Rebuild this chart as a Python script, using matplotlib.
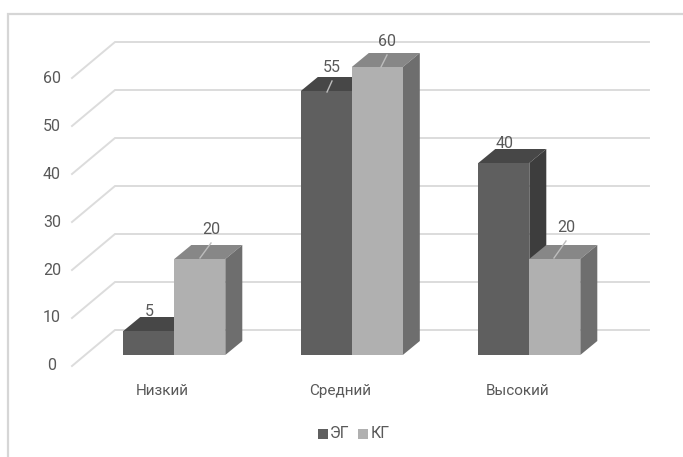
import matplotlib
matplotlib.use("Agg")
import matplotlib.pyplot as plt
from matplotlib.patches import Polygon

plt.rcParams['font.family'] = ['Roboto', 'DejaVu Sans']

categories = ["Низкий", "Средний", "Высокий"]
series_names = ["ЭГ", "КГ"]
eg_values = [5, 55, 40]
kg_values = [20, 60, 20]
y_ticks = [0, 10, 20, 30, 40, 50, 60]

W, H = 683, 457
PX_X = 177.5      # pixels per category
PX_Y = 4.8        # pixels per value unit
X0_PX = 174.3     # pixel of first category centre
Y0_PX = 355       # pixel of value 0 at the bars' front

BAR_W = 51 / PX_X
DEPTH_X = 17 / PX_X
DEPTH_Y = 14 / PX_Y
FS = 11.5

GRID = "#dcdcdc"
TEXT = "#595959"
dark = ("#5f5f5f", "#474747", "#3d3d3d")    # front, top, side
light = ("#b0b0b0", "#878787", "#6e6e6e")


def px_x(p):
    return (p - X0_PX) / PX_X


def px_y(p):
    return (Y0_PX - p) / PX_Y


fig = plt.figure(figsize=(W / 100, H / 100), dpi=100)
ax = fig.add_axes((0, 0, 1, 1))
ax.set_xlim(px_x(0), px_x(W))
ax.set_ylim(px_y(H), px_y(0))
ax.axis("off")

# chart frame
ax.plot([px_x(8), px_x(8), px_x(W)], [px_y(H), px_y(14), px_y(14)],
        color="#d6d6d6", lw=1.6, zorder=1, solid_joinstyle="miter")

# floor and back wall lines
front_shift = -11 / PX_Y
back_shift = 25 / PX_Y
for t in y_ticks:
    ax.plot([px_x(72), px_x(115), px_x(649)],
            [t + front_shift, t + back_shift, t + back_shift],
            color=GRID, lw=1.4, zorder=2, solid_joinstyle="miter")
    ax.text(px_x(52), t - 11 / PX_Y, str(t), color=TEXT, fontsize=FS,
            ha="center", va="center", zorder=6)


def draw_bar(left, value, colors, z):
    right = left + BAR_W
    ax.add_patch(Polygon([(left, value), (right, value),
                          (right + DEPTH_X, value + DEPTH_Y), (left + DEPTH_X, value + DEPTH_Y)],
                         fc=colors[1], ec="none", zorder=z))
    ax.add_patch(Polygon([(right, 0), (right + DEPTH_X, DEPTH_Y),
                          (right + DEPTH_X, value + DEPTH_Y), (right, value)],
                         fc=colors[2], ec="none", zorder=z))
    ax.bar(left, value, width=BAR_W, align="edge", color=colors[0], zorder=z + 0.1)


for i, cat in enumerate(categories):
    left = i - BAR_W
    draw_bar(left, eg_values[i], dark, 3)
    draw_bar(i, kg_values[i], light, 4)
    ax.text(i - 0.068, px_y(391), cat, color=TEXT, fontsize=11,
            ha="center", va="center", zorder=6)

# data labels with leader lines
label_pos = {0: [(149, 311), (211, 229)],
             1: [(332, 67), (387, 41)],
             2: [(505, 143), (566, 227)]}
leaders = {0: [None, ((200, 258), (211, 243))],
           1: [((327, 92), (332, 81)), ((381, 67), (387, 55))],
           2: [None, ((554, 258), (566, 241))]}
for i in range(3):
    for j, vals in enumerate((eg_values, kg_values)):
        x, y = label_pos[i][j]
        ax.text(px_x(x), px_y(y), str(vals[i]), color=TEXT, fontsize=FS,
                ha="center", va="center", zorder=6)
        if leaders[i][j] is not None:
            (x1, y1), (x2, y2) = leaders[i][j]
            ax.plot([px_x(x1), px_x(x2)], [px_y(y1), px_y(y2)], color="#bdbdbd", lw=1, zorder=5)

# legend
for name, col, sq, tx in zip(series_names, (dark[0], light[0]), (322.5, 362.5), (340, 380)):
    ax.scatter([px_x(sq)], [px_y(434)], marker="s", s=46, color=col, zorder=5, linewidths=0)
    ax.text(px_x(tx), px_y(434), name, color=TEXT, fontsize=FS,
            ha="center", va="center", zorder=6)

fig.savefig("out.png", dpi=100)
